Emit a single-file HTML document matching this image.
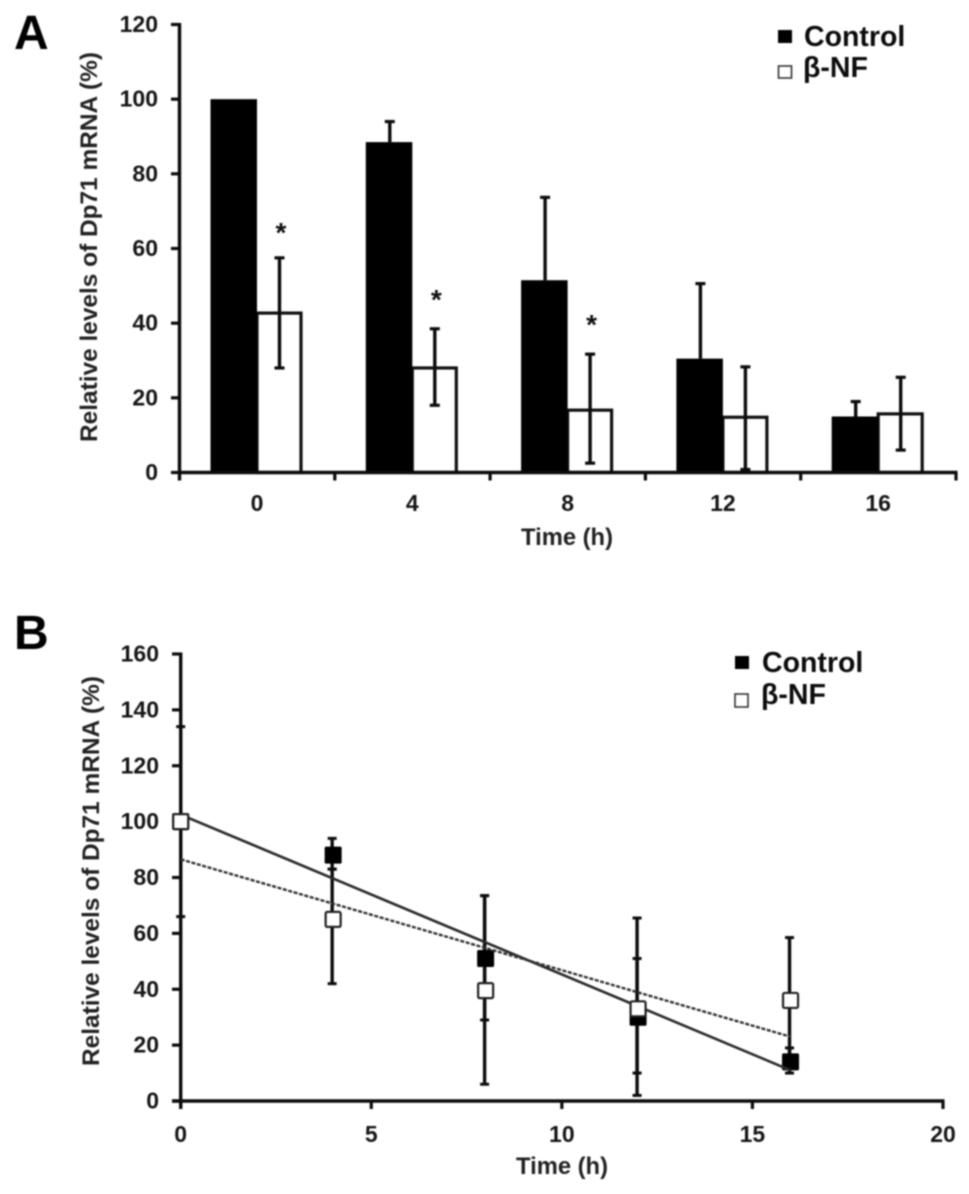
<!DOCTYPE html>
<html lang="en">
<head>
<meta charset="utf-8">
<title>Relative levels of Dp71 mRNA</title>
<style>
html,body{margin:0;padding:0;background:#fff;width:969px;height:1194px;overflow:hidden}
svg{display:block;filter:blur(0.75px)}
text{font-family:"Liberation Sans",sans-serif;font-weight:bold;fill:#161616}
.tick{font-size:23px}
.title{font-size:24px;fill:#222}
.legend{font-size:28.5px;fill:#0c0c0c}
.panel{font-size:48px;fill:#000}
.star{font-size:28px;fill:#111}
</style>
</head>
<body>
<svg id="fig" width="969" height="1194" viewBox="0 0 969 1194" xmlns="http://www.w3.org/2000/svg">
  <rect width="969" height="1194" fill="#fff"/>
  <text class="panel" x="14" y="49">A</text>
  <text class="panel" x="14" y="649">B</text>
  <text class="title" transform="translate(97,247) rotate(-90)" text-anchor="middle" textLength="390" lengthAdjust="spacingAndGlyphs">Relative levels of Dp71 mRNA (%)</text>
  <text class="title" transform="translate(99,871) rotate(-90)" text-anchor="middle" textLength="390" lengthAdjust="spacingAndGlyphs">Relative levels of Dp71 mRNA (%)</text>
  <text class="title" x="567" y="545" text-anchor="middle" textLength="92" lengthAdjust="spacingAndGlyphs">Time (h)</text>
  <text class="title" x="562" y="1174" text-anchor="middle" textLength="92" lengthAdjust="spacingAndGlyphs">Time (h)</text>
  <g>
    <rect x="778" y="30" width="14" height="13" fill="#000"/>
    <text class="legend" x="804" y="46">Control</text>
    <rect x="778.5" y="66" width="13" height="12" fill="#fff" stroke="#333" stroke-width="1.6"/>
    <text class="legend" x="803" y="77">β-NF</text>
  </g>
  <g>
    <rect x="735" y="656" width="14" height="13" fill="#000"/>
    <text class="legend" x="762" y="672">Control</text>
    <rect x="735" y="694" width="13" height="13" fill="#fff" stroke="#333" stroke-width="1.6"/>
    <text class="legend" x="761" y="704">β-NF</text>
  </g>
</svg>
<script>
/* Panel A data */
const aCategories = ['0', '4', '8', '12', '16'];
const aYTicks = [0, 20, 40, 60, 80, 100, 120];
const aControl = [100, 88.5, 51.5, 30.5, 15];
const aControlErrTop = [100, 94, 73.7, 50.6, 19];
const aBnf = [42.7, 28, 16.7, 14.8, 15.7];
const aBnfErrTop = [57.5, 38.5, 31.7, 28.3, 25.5];
const aBnfErrBottom = [28, 18, 2.5, 0.8, 6];
const aSignificant = [true, true, true, false, false];
const aStarValues = [65, 47, 40.3];

/* Panel B data */
const bTimes = [0, 4, 8, 12, 16];
const bXTicks = [0, 5, 10, 15, 20];
const bYTicks = [0, 20, 40, 60, 80, 100, 120, 140, 160];
const bControl = [100, 88, 51, 30, 14];
const bControlErrTop = [134, 94, 73.5, 51, 19];
const bControlErrBottom = [66, 83, 29, 10, 10];
const bBnf = [100, 65, 39.5, 33, 36];
const bBnfErrTop = [100, 83, 73.5, 65.5, 58.5];
const bBnfErrBottom = [100, 42, 6, 2, 13];
const bControlTrendTimes = [0, 16];
const bControlTrend = [102.5, 11];
const bBnfTrendTimes = [0, 16];
const bBnfTrend = [86.5, 23];

const svg = document.getElementById('fig');
const NS = 'http://www.w3.org/2000/svg';
function make(tag, props, parent) {
  const el = document.createElementNS(NS, tag);
  for (const k in props) el.setAttribute(k, props[k]);
  (parent || svg).appendChild(el);
  return el;
}
function group(name) {
  const g = make('g', {});
  
  
  return g;
}
function line(x1, y1, x2, y2, sw, parent, color) {
  return make('line', {x1: x1, y1: y1, x2: x2, y2: y2, stroke: color || '#0c0c0c', 'stroke-width': sw}, parent);
}

/* ---------- Panel A ---------- */
const aY = v => 472.5 - v * (448 / 120);
const aStep = 155.3;
const aGroupX = i => 257 + i * aStep;
const aBoundaryX = i => 179.5 + i * aStep;

const aBars = group('a-bars');
aCategories.forEach((c, i) => {
  const gx = aGroupX(i);
  const w = make('rect', {x: gx, y: aY(aBnf[i]), width: 44, height: aY(0) - aY(aBnf[i]), fill: '#fff', stroke: '#111', 'stroke-width': 3.2}, aBars);
  
  
  const b = make('rect', {x: gx - 46.5, y: aY(aControl[i]), width: 46.5, height: aY(0) - aY(aControl[i]), fill: '#000'}, aBars);
  
  

  const cx = gx - 22.5;
  if (aControlErrTop[i] > aControl[i]) {
    const e1 = line(cx, aY(aControl[i]), cx, aY(aControlErrTop[i]), 3.4, aBars);
    
    
    const c1 = line(cx - 5, aY(aControlErrTop[i]), cx + 5, aY(aControlErrTop[i]), 3.2, aBars);
    
    
  }

  const wx = gx + 22.5;
  const e2 = line(wx, aY(aBnfErrBottom[i]), wx, aY(aBnfErrTop[i]), 3.4, aBars);
  
  
  const c2 = line(wx - 5, aY(aBnfErrTop[i]), wx + 5, aY(aBnfErrTop[i]), 3.2, aBars);
  
  
  const c3 = line(wx - 5, aY(aBnfErrBottom[i]), wx + 5, aY(aBnfErrBottom[i]), 3.2, aBars);
  
  

  if (aSignificant[i]) {
    const s = make('text', {class: 'star', x: wx + 1.5, y: aY(aStarValues[i]) + 12, 'text-anchor': 'middle'}, aBars);
    s.textContent = '*';
    
    
  }
});

const aAxes = group('a-axes');
const aYLine = line(179.5, aY(120) - 1.5, 179.5, aY(0) + 8, 3.4, aAxes);


const aXLine = line(179.5, aY(0), aBoundaryX(5) + 1.5, aY(0), 3.4, aAxes);


aYTicks.forEach(v => {
  const t = line(171, aY(v), 180, aY(v), 3.2, aAxes);
  
  
  const l = make('text', {class: 'tick', x: 158, y: aY(v) + 7.5, 'text-anchor': 'end'}, aAxes);
  l.textContent = v;
  
  
});
for (let i = 1; i <= aCategories.length; i++) {
  const t = line(aBoundaryX(i), aY(0), aBoundaryX(i), aY(0) + 8, 3.2, aAxes);
  
  
}
aCategories.forEach((c, i) => {
  const l = make('text', {class: 'tick', x: aGroupX(i), y: 511, 'text-anchor': 'middle'}, aAxes);
  l.textContent = c;
  
  
});

/* ---------- Panel B ---------- */
const bY = v => 1101 - v * (447 / 160);
const bX = t => 180.7 + t * (762.3 / 20);

const bAxes = group('b-axes');
const bYLine = line(180.7, bY(160) - 1.5, 180.7, bY(0) + 8, 3.4, bAxes);


const bXLine = line(172, bY(0), bX(20) + 1.5, bY(0), 3.4, bAxes);


bYTicks.forEach(v => {
  const t = line(172, bY(v), 181, bY(v), 3.2, bAxes);
  
  
  const l = make('text', {class: 'tick', x: 159, y: bY(v) + 7.5, 'text-anchor': 'end'}, bAxes);
  l.textContent = v;
  
  
});
bXTicks.forEach(v => {
  const t = line(bX(v), bY(0), bX(v), bY(0) + 8, 3.2, bAxes);
  
  
  const l = make('text', {class: 'tick', x: bX(v), y: 1142, 'text-anchor': 'middle'}, bAxes);
  l.textContent = v;
  
  
});

function errorBar(t, top, bottom, name, parent) {
  const x = bX(t) - 1 + (t === 0 ? 1 : 0);
  const e = line(x, bY(bottom), x, bY(top), 3.4, parent);
  
  
  const a = line(x - 4.5, bY(top), x + 4.5, bY(top), 3, parent);
  
  
  const b = line(x - 4.5, bY(bottom), x + 4.5, bY(bottom), 3, parent);
  
  
}

const bErrors = group('b-error-bars');
bTimes.forEach((t, i) => {
  errorBar(t, bControlErrTop[i], bControlErrBottom[i], 'b-error-control-' + t + 'h', bErrors);
  if (bBnfErrTop[i] !== bBnfErrBottom[i]) {
    errorBar(t, bBnfErrTop[i], bBnfErrBottom[i], 'b-error-bnf-' + t + 'h', bErrors);
  }
});

const bControlMarks = group('b-control-markers');
bTimes.forEach((t, i) => {
  const m = make('rect', {x: bX(t) - 8.5, y: bY(bControl[i]) - 8.5, width: 17, height: 17, fill: '#000', rx: 1.5}, bControlMarks);
  
  
});

const cTrend = line(bX(bControlTrendTimes[0]), bY(bControlTrend[0]), bX(bControlTrendTimes[1]), bY(bControlTrend[1]), 2.6);
cTrend.setAttribute('stroke', '#2a2a2a');



const bBnfMarks = group('b-bnf-markers');
bTimes.forEach((t, i) => {
  const m = make('rect', {x: bX(t) - 7.5, y: bY(bBnf[i]) - 7.5, width: 15, height: 15, fill: '#fff', stroke: '#222', 'stroke-width': 2.2, rx: 1.5}, bBnfMarks);
  
  
});

const dTrend = line(bX(bBnfTrendTimes[0]), bY(bBnfTrend[0]), bX(bBnfTrendTimes[1]), bY(bBnfTrend[1]), 2.4);
dTrend.setAttribute('stroke', '#333');
dTrend.setAttribute('stroke-dasharray', '4 1.6');


</script>
</body>
</html>
